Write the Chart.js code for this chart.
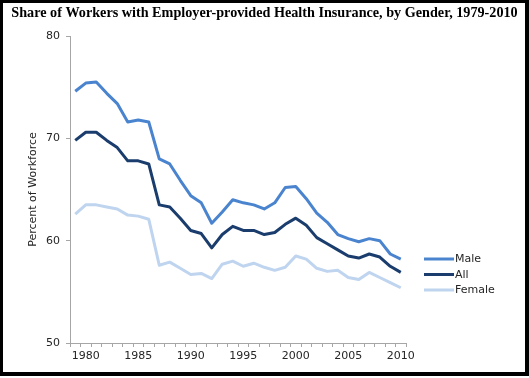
<!DOCTYPE html>
<html>
<head>
<meta charset="utf-8">
<script src="https://cdn.jsdelivr.net/npm/chart.js@4/dist/chart.umd.min.js"></script>
<style>
  html, body { margin: 0; padding: 0; background: #fff; }
  #wrap { position: relative; width: 529px; height: 378px; }
  #c { position: absolute; left: 0; top: 0; width: 529px; height: 378px; }
  #frame { position: absolute; left: 0; top: 0; width: 529px; height: 376px; box-sizing: border-box;
           border-style: solid; border-color: #000; border-width: 3px 4px 4px 3px; pointer-events: none; }
</style>
</head>
<body>
<div id="wrap">
  <canvas id="c" width="529" height="378"></canvas>
  <div id="frame"></div>
</div>
<script>
// ---- data ----
const years = [1979,1980,1981,1982,1983,1984,1985,1986,1987,1988,1989,1990,1991,1992,1993,1994,
               1995,1996,1997,1998,1999,2000,2001,2002,2003,2004,2005,2006,2007,2008,2009,2010];
const male = [74.6,75.4,75.5,74.4,73.4,71.6,71.8,71.6,68.0,67.5,65.9,64.4,63.7,61.7,62.8,64.0,
              63.7,63.5,63.1,63.7,65.2,65.3,64.1,62.7,61.8,60.6,60.2,59.9,60.2,60.0,58.7,58.2];
const all = [69.8,70.6,70.6,69.8,69.1,67.8,67.8,67.5,63.5,63.3,62.2,61.0,60.7,59.3,60.6,61.4,
             61.0,61.0,60.6,60.8,61.6,62.2,61.5,60.3,59.7,59.1,58.5,58.3,58.7,58.4,57.5,56.9];
const female = [62.6,63.5,63.5,63.3,63.1,62.5,62.4,62.1,57.6,57.9,57.3,56.7,56.8,56.3,57.7,58.0,
                57.5,57.8,57.4,57.1,57.4,58.5,58.2,57.3,57.0,57.1,56.4,56.2,56.9,56.4,55.9,55.4];
const seriesNames = ['Male', 'All', 'Female'];
const yTicks = [50, 60, 70, 80];
const titleText = 'Share of Workers with Employer-provided Health Insurance, by Gender, 1979-2010';
const yTitle = 'Percent of Workforce';

const colors = ['#4a84cf', '#1b3d6d', '#bfd4ef'];
const axisColor = '#a6a6a6';
const textColor = '#262626';
const sans = "'DejaVu Sans', Verdana, sans-serif";

const legendPlugin = {
  id: 'sideLegend',
  afterDraw(chart) {
    const ctx = chart.ctx;
    ctx.save();
    chart.data.datasets.forEach((ds, i) => {
      const y = 259 + i * 15.5;
      ctx.strokeStyle = ds.borderColor;
      ctx.lineWidth = 3;
      ctx.lineCap = 'butt';
      ctx.beginPath();
      ctx.moveTo(424, y);
      ctx.lineTo(454, y);
      ctx.stroke();
      ctx.fillStyle = textColor;
      ctx.font = "11px " + sans;
      ctx.textBaseline = 'middle';
      ctx.textAlign = 'left';
      ctx.fillText(ds.label, 455, y + 0.5);
    });
    ctx.restore();
  }
};

const seriesData = [male, all, female];

new Chart(document.getElementById('c'), {
  type: 'line',
  data: {
    labels: years.map(String),
    datasets: seriesNames.map((name, i) => ({
      label: name,
      data: seriesData[i],
      borderColor: colors[i],
      backgroundColor: colors[i],
      borderWidth: 3,
      pointRadius: 0,
      tension: 0,
      borderJoinStyle: 'round'
    }))
  },
  options: {
    responsive: false,
    animation: false,
    devicePixelRatio: 1,
    layout: { padding: { left: 0, right: 0, top: 0, bottom: 0 } },
    plugins: {
      legend: { display: false },
      tooltip: { enabled: false },
      title: {
        display: true,
        text: titleText,
        color: '#000',
        font: { family: "'Liberation Serif', 'Times New Roman', serif", size: 14.2, weight: 'bold' },
        padding: { top: 4.5, bottom: 14.5 }
      }
    },
    scales: {
      x: {
        type: 'category',
        offset: true,
        grid: { offset: true, drawOnChartArea: false, drawTicks: true, tickLength: 4, color: axisColor },
        border: { color: axisColor, width: 1 },
        ticks: {
          autoSkip: false, maxRotation: 0, minRotation: 0, padding: 3,
          color: textColor, font: { family: sans, size: 11 },
          callback: function(v, i) { const yr = years[i]; return yr % 5 === 0 ? String(yr) : ''; }
        },
        afterFit: (s) => { s.height = 35; }
      },
      y: {
        min: 50, max: 80,
        afterBuildTicks: (s) => { s.ticks = yTicks.map(v => ({ value: v })); },
        grid: { drawOnChartArea: false, drawTicks: true, tickLength: 4, color: axisColor },
        border: { color: axisColor, width: 1 },
        ticks: { padding: 6, color: textColor, font: { family: sans, size: 11 } },
        title: {
          display: true, text: yTitle, color: textColor,
          font: { family: sans, size: 11 }, padding: { top: 26.4, bottom: 0 }
        },
        afterFit: (s) => { s.width = 70; }
      },
      legendSpace: {
        type: 'linear', position: 'right', display: true,
        grid: { display: false, drawTicks: false },
        border: { display: false },
        ticks: { display: false },
        afterFit: (s) => { s.width = 123; }
      }
    }
  },
  plugins: [legendPlugin]
});
</script>
</body>
</html>
